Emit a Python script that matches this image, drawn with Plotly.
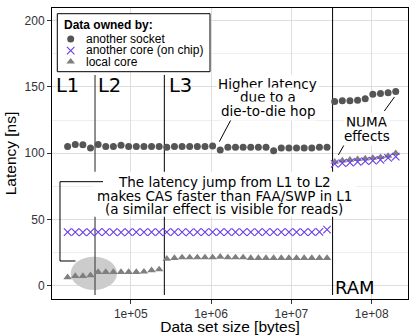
import plotly.graph_objects as go

# ---- data ----
sizes = [16384, 20391, 25378, 31579, 39300, 48911, 60871, 75753, 94276, 117327,
         146014, 181713, 226143, 281436, 350245, 435880, 542451, 675084, 840141, 1045554,
         1301190, 1619337, 2015274, 2507969, 3121148, 3884236, 4833931, 6015896, 7486802, 9317390,
         11595301, 14430456, 17958622, 22349294, 27813716, 34614186, 43077319, 53609664, 66717152, 83029331,
         103332170, 128596010, 160040000, 199190000]

another_socket = [105, 106.5, 106.3, 104, 106.5, 105, 105, 106, 105, 105,
                  105, 105, 105, 104.5, 105, 105, 105, 105, 105, 105.5,
                  102.5, 104.5, 104.5, 104.5, 104.5, 104.5, 104.5, 101.8, 104, 104,
                  104, 104, 104, 104.5, 104.5, 139, 139.5, 139.5, 140, 141,
                  144.5, 145, 145.5, 146.5]

another_core = [40.5, 40.6, 40.4, 40.5, 40.5, 40.6, 40.5, 40.4, 40.5, 40.5,
                40.5, 40.5, 40.6, 40.5, 40.5, 40.5, 40.4, 40.5, 40.5, 40.5,
                40.5, 40.5, 40.5, 40.5, 40.5, 40.5, 40.5, 40.5, 40.5, 40.5,
                40.5, 40.5, 40.6, 40.7, 42.5, 92, 92.5, 93, 93.5, 94,
                94.5, 95, 96.5, 97.5]

local_core = [6.5, 7.5, 7.5, 8, 10.5, 10.5, 10.5, 10.5, 10.5, 10.5,
              10.8, 11.8, 12.5, 20.5, 21, 21.5, 21.5, 21.5, 21.5, 21.5,
              22, 21.5, 21.5, 21.5, 21, 21, 21, 21, 21, 21,
              21, 21, 21, 21, 21, 93.5, 94.5, 95, 95.5, 96,
              96.5, 97, 98, 100]

series_names = ["another socket", "another core (on chip)", "local core"]
x_tickvals = [1e5, 1e6, 1e7, 1e8]
x_ticktext = ["1e+05", "1e+06", "1e+07", "1e+08"]
y_tickvals = [0, 50, 100, 150, 200]
y_minor = [25, 75, 125, 175]

# cache boundaries (bytes)
boundaries = {"L1/L2": 35938, "L2/L3": 262144, "L3/RAM": 32600000}

C_SOCK = "#555555"
C_CORE = "#6a3de8"
C_LOCAL = "#7f7f7f"
AX_FONT = "Liberation Sans, Arial, sans-serif"
ANN_FONT = "DejaVu Sans, sans-serif"

fig = go.Figure()
fig.add_trace(go.Scatter(x=sizes, y=another_socket, mode="markers", name=series_names[0],
                         marker=dict(symbol="circle", size=7, color=C_SOCK), showlegend=False))
fig.add_trace(go.Scatter(x=sizes, y=local_core, mode="markers", name=series_names[2],
                         marker=dict(symbol="triangle-up", size=7.5, color=C_LOCAL), showlegend=False))
fig.add_trace(go.Scatter(x=sizes, y=another_core, mode="markers", name=series_names[1],
                         marker=dict(symbol="x-thin", size=7.5, color=C_CORE,
                                     line=dict(width=1.1, color=C_CORE)), showlegend=False))

# custom legend on an auxiliary pixel-like axis pair covering the plot area
PW, PH = 356, 291
fig.add_trace(go.Scatter(x=[18.7], y=[31], mode="markers", xaxis="x2", yaxis="y2", showlegend=False,
                         marker=dict(symbol="circle", size=7, color=C_SOCK), hoverinfo="skip"))
fig.add_trace(go.Scatter(x=[18.7], y=[42.7], mode="markers", xaxis="x2", yaxis="y2", showlegend=False,
                         marker=dict(symbol="x-thin", size=7.5, color=C_CORE,
                                     line=dict(width=1.1, color=C_CORE)), hoverinfo="skip"))
fig.add_trace(go.Scatter(x=[18.7], y=[53.7], mode="markers", xaxis="x2", yaxis="y2", showlegend=False,
                         marker=dict(symbol="triangle-up", size=7.5, color=C_LOCAL), hoverinfo="skip"))

shapes = []
# ellipse around L1 points
shapes.append(dict(type="circle", xref="x", yref="y", x0=17893, x1=67520, y0=-3.0, y1=22.1,
                   fillcolor="#cccccc", line=dict(width=0), layer="between"))
# boundary lines
shapes.append(dict(type="line", xref="x", yref="y", x0=boundaries["L1/L2"], x1=boundaries["L1/L2"],
                   y0=-6.8, y1=159, line=dict(color="#555555", width=1.3), layer="between"))
shapes.append(dict(type="line", xref="x", yref="y", x0=boundaries["L2/L3"], x1=boundaries["L2/L3"],
                   y0=-6.8, y1=159, line=dict(color="black", width=1), layer="between"))
shapes.append(dict(type="line", xref="x", yref="y", x0=boundaries["L3/RAM"], x1=boundaries["L3/RAM"],
                   y0=-6.8, y1=209.4, line=dict(color="black", width=1), layer="between"))
# white label box for the latency-jump text
shapes.append(dict(type="rect", xref="x", yref="y", x0=33960, x1=63.8e6, y0=52.2, y1=86.1,
                   fillcolor="white", line=dict(width=0), layer="between"))
# bracket
for (xa, ya, xb, yb) in [(45204, 78.57, 13166, 78.57), (13166, 78.57, 13166, 18.83),
                         (13166, 18.83, 20535, 18.83)]:
    shapes.append(dict(type="line", xref="x", yref="y", x0=xa, y0=ya, x1=xb, y1=yb,
                       line=dict(color="black", width=1), layer="between"))
# leader lines
for (xa, ya, xb, yb) in [(1.808e6, 126.3, 1.268e6, 108.7),
                         (1.436e8, 131.8, 1.923e8, 142.4),
                         (4.656e7, 107.5, 3.846e7, 98.7)]:
    shapes.append(dict(type="line", xref="x", yref="y", x0=xa, y0=ya, x1=xb, y1=yb,
                       line=dict(color="black", width=1), layer="between"))
# legend box (aux axes, pixel-like units)
shapes.append(dict(type="rect", xref="x2", yref="y2", x0=5.3, x1=158, y0=5.7, y1=63.7,
                   fillcolor="white", line=dict(color="black", width=1), layer="below"))

ann = []
def A(x, y, text, size, xref="x", yref="y", font=ANN_FONT, bg=None, xanchor="center", bold=False, color="black"):
    d = dict(x=x, y=y, xref=xref, yref=yref, text=("<b>%s</b>" % text) if bold else text,
             showarrow=False, xanchor=xanchor, yanchor="middle",
             font=dict(family=font, size=size, color=color), borderpad=1)
    if bg:
        d["bgcolor"] = bg
    ann.append(d)

# cache-level labels (annotation x uses log10 on log axes)
A(4.207, 150.7, "L1", 19.5)
A(4.734, 150.7, "L2", 19.5)
A(5.614, 150.7, "L3", 19.5)
A(7.797, -1.1, "RAM", 18)

A(6.709, 152.2, "Higher latency", 13.5, bg="white")
A(6.709, 142.1, "due to a", 13.5, bg="white")
A(6.709, 132.1, "die-to-die hop", 13.5, bg="white")

A(7.94, 123.3, "NUMA", 13.5, bg="white")
A(7.94, 113.0, "effects", 13.5, bg="white")

A(6.162, 78.6, "The latency jump from L1 to L2", 13.5)
A(6.162, 67.8, "makes CAS faster than FAA/SWP in L1", 13.5)
A(6.162, 57.8, "(a similar effect is visible for reads)", 13.5)

# legend texts
A(9.5, 16.5, "Data owned by:", 12, xref="x2", yref="y2", font=AX_FONT, xanchor="left", bold=True)
A(31.5, 30.7, series_names[0], 12, xref="x2", yref="y2", font=AX_FONT, xanchor="left")
A(31.5, 42.3, series_names[1], 12, xref="x2", yref="y2", font=AX_FONT, xanchor="left")
A(31.5, 53.7, series_names[2], 12, xref="x2", yref="y2", font=AX_FONT, xanchor="left")

fig.update_layout(
    width=409, height=335,
    margin=dict(l=52, r=1, t=8, b=36, autoexpand=False),
    paper_bgcolor="white", plot_bgcolor="rgba(0,0,0,0)",
    shapes=shapes, annotations=ann, showlegend=False,
    xaxis=dict(type="log", range=[4.020, 8.452], tickvals=x_tickvals, ticktext=x_ticktext,
               showgrid=True, gridcolor="#dedede", gridwidth=1, zeroline=False,
               showline=True, mirror=True, linecolor="black", linewidth=1,
               ticks="outside", ticklen=4, tickcolor="#333333",
               tickfont=dict(family=AX_FONT, size=12, color="#333333"),
               title=dict(text="Data set size [bytes]", font=dict(family=AX_FONT, size=15.5, color="black"),
                          standoff=2)),
    yaxis=dict(range=[-9.8, 209.4], tickvals=y_tickvals,
               showgrid=True, gridcolor="#dedede", gridwidth=1, zeroline=False,
               minor=dict(tickvals=y_minor, showgrid=True, gridcolor="#eeeeee", ticks=""),
               showline=True, mirror=True, linecolor="black", linewidth=1,
               ticks="outside", ticklen=4, tickcolor="#333333",
               tickfont=dict(family=AX_FONT, size=12, color="#333333"),
               title=dict(text="Latency [ns]", font=dict(family=AX_FONT, size=15.5, color="black"),
                          standoff=4)),
    xaxis2=dict(domain=[0, 1], anchor="y2", range=[0, PW], visible=False, fixedrange=True),
    yaxis2=dict(domain=[0, 1], anchor="x2", range=[PH, 0], visible=False, fixedrange=True),
)

fig.write_html("out.html")
